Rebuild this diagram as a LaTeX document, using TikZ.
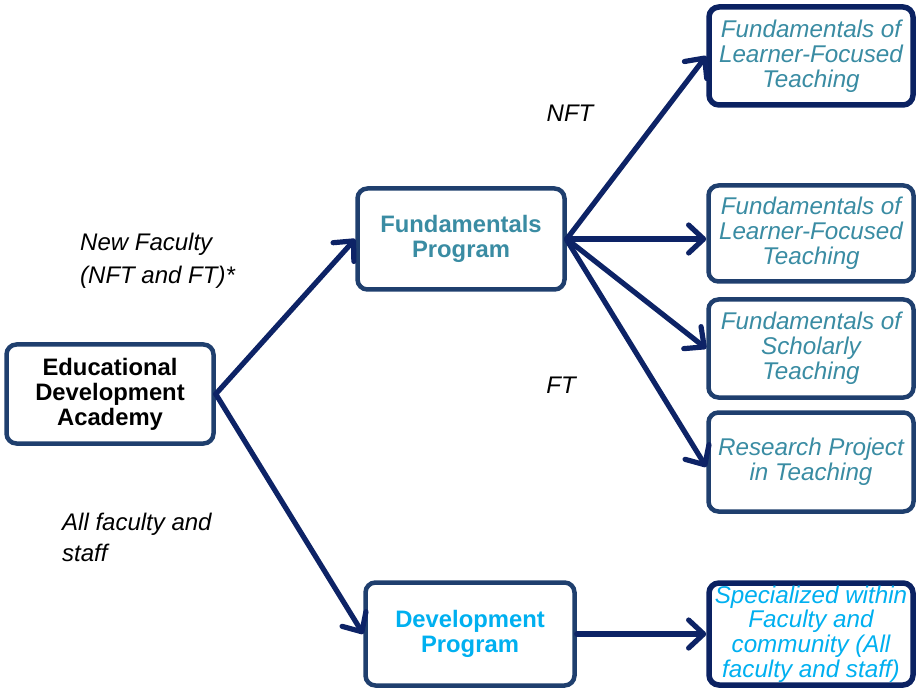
\documentclass[tikz,border=0pt]{standalone}
\usepackage{fontspec}
\setmainfont{Liberation Sans}
\usetikzlibrary{arrows.meta}
\definecolor{boxline}{HTML}{1F3F6E}
\definecolor{darkline}{HTML}{0B2262}
\definecolor{arrowc}{HTML}{0D2366}
\definecolor{tealtxt}{HTML}{3A8CA3}
\definecolor{skytxt}{HTML}{00B0F0}
\begin{document}
\begin{tikzpicture}[x=1pt,y=-1pt,
  box/.style={draw=boxline, line width=4.5pt, rounded corners=10pt, fill=white,
    align=center, inner sep=0pt, font=\fontsize{24}{25}\selectfont},
  darkbox/.style={box, draw=darkline, line width=5.5pt},
  hub/.style={box, font=\fontsize{23.8}{25}\selectfont\bfseries},
  course/.style={text=tealtxt, font=\fontsize{24.2}{25}\selectfont\itshape},
  note/.style={font=\fontsize{24}{33}\selectfont\itshape, align=left, inner sep=0pt},
  link/.style={draw=arrowc, line width=5.2pt, line cap=round,
    -{Straight Barb[length=15pt,width=28pt,line cap=round,line join=round]}}
]
\useasboundingbox (0,0) rectangle (918,692);

% hubs
\node[hub, minimum width=207pt, minimum height=99pt] (eda) at (110,394)
  {Educational\\Development\\Academy};
\node[hub, text=tealtxt, minimum width=207pt, minimum height=101pt] (fund) at (461,239)
  {Fundamentals\\Program};
\node[hub, text=skytxt, minimum width=209pt, minimum height=103pt] (dev) at (470,634)
  {Development\\Program};

% courses
\node[darkbox, course, minimum width=204pt, minimum height=98pt] (c1) at (811,56)
  {Fundamentals of\\Learner-Focused\\Teaching};
\node[box, course, minimum width=205pt, minimum height=96pt] (c2) at (811,233.5)
  {Fundamentals of\\Learner-Focused\\Teaching};
\node[box, course, minimum width=205pt, minimum height=98pt] (c3) at (811,348.5)
  {Fundamentals of\\Scholarly\\Teaching};
\node[box, course, minimum width=205pt, minimum height=99pt] (c4) at (811,462)
  {Research Project\\in Teaching};
\node[darkbox, text=skytxt, font=\fontsize{24.2}{24.7}\selectfont\itshape,
  minimum width=204pt, minimum height=102pt] (c5) at (811,634)
  {Specialized within\\Faculty and\\community (All\\faculty and staff)};

% audience labels
\node[note] (lnft) at (570,113) {NFT};
\node[note] (lft) at (561,385) {FT};
\node[note, anchor=west] (lnew) at (80,261) {New Faculty\\(NFT and FT)*};
\node[note, anchor=west, font=\fontsize{24}{31}\selectfont\itshape] (lall) at (62,537)
  {All faculty and\\staff};

% connectors
\draw[link] (eda.east) -- (fund.west);
\draw[link] (eda.east) -- (dev.west);
\draw[link] (fund.east) -- (c1.west);
\draw[link] (fund.east) -- (fund.east -| c2.west);
\draw[link] (fund.east) -- (c3.west);
\draw[link] ([yshift=-1pt]fund.east) -- ([yshift=-5pt]c4.west);
\draw[link] (dev.east) -- (c5.west);
\end{tikzpicture}
\end{document}
